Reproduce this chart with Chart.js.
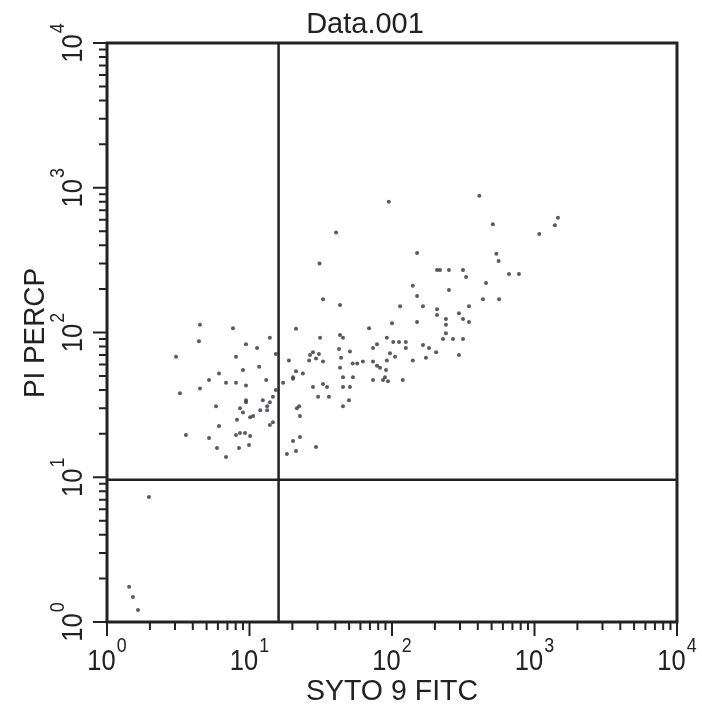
<!DOCTYPE html>
<html>
<head>
<meta charset="utf-8">
<script src="https://cdn.jsdelivr.net/npm/chart.js@4/dist/chart.umd.min.js"></script>
<style>
  body { margin: 0; background: #fff; }
  #wrap { width: 702px; height: 711px; }
</style>
</head>
<body>
<div id="wrap"><canvas id="dotPlot" width="702" height="711"></canvas></div>
<script>
// SYTO 9 (FITC) vs PI (PerCP) events
const syto9 = [95, 410, 510, 1460, 1390, 1080, 40.5, 31, 150, 540,
  560, 207, 217, 251, 315, 331, 662, 778, 457, 140,
  251, 150, 435, 564, 114, 165, 347, 207, 207, 295,
  239, 315, 347, 150, 239, 239, 228, 268, 315, 112,
  125, 125, 165, 182, 204, 140, 173, 295,
  32.8, 43.2, 100, 21.2, 69, 31.3, 43.2, 45.3, 92, 102,
  78.5, 73.6, 42.5, 50.7, 27.9, 30.7, 26.6, 96.8, 105, 43.9,
  29.3, 32.8, 26.2, 18.9, 92, 53, 57, 62.5, 73.6, 78.5,
  43.2, 82.4, 90.8, 21.2, 23.7, 20.2, 20.2, 45.3, 53.2, 73.6,
  89.3, 93.7, 119, 17.2, 27.9, 32.8, 35, 45.3, 50.7, 30.3,
  36.1, 49.9, 45.3, 22.3, 21.5, 22.6, 22.6, 20.2, 21.2, 18.3,
  29.3, 86.5,
  4.49, 7.66, 4.42, 13.9, 9.45, 11.3, 3.05, 8.04, 15.3, 11.7,
  9.0, 6.11, 5.2, 6.84, 8.04, 13.1, 9.45, 3.25, 4.49, 15.3,
  14.6, 9.45, 9.45, 12.4, 13.9, 13.3, 5.82, 11.9, 13.3, 8.58,
  9.0, 8.17, 10.6, 10.1, 13.9, 14.6, 6.11, 8.04, 8.58, 9.3,
  10.1, 3.58, 5.2, 5.91, 8.44, 9.92, 6.84, 1.97, 1.43, 1.52,
  1.65];
const piPercp = [800, 880, 560, 620, 550, 480, 490, 300, 354, 350,
  312, 270, 270, 270, 270, 242, 254, 254, 220, 210,
  197, 179, 170, 170, 152, 152, 152, 145, 132, 136,
  124, 124, 118, 118, 113, 99, 90, 90, 90, 86,
  86, 78, 82, 78, 73, 64, 67, 70,
  170, 155, 116, 106, 107, 92, 96, 92, 92, 86,
  83, 78, 77, 74, 73, 71, 70, 72, 68, 67,
  66, 63, 64, 64, 64, 61, 61, 63, 63, 59,
  57, 57, 55, 54, 52, 49, 48, 49, 49, 47,
  49, 46, 47, 45, 42, 44, 42, 42, 42, 36,
  36, 34, 31, 31, 30, 26.5, 19, 17.8, 15.2, 14.5,
  16.2, 47,
  113, 107, 87, 92, 83, 78, 68, 68, 71, 58,
  55, 52, 47, 45, 45, 47, 43, 38, 41, 40,
  36, 34, 33, 34, 33, 31, 31, 29, 29, 30,
  28, 25, 26.5, 26, 23, 24, 22.6, 19.6, 20.2, 20.2,
  19.3, 19.6, 18.7, 15.9, 15.9, 16.7, 13.8, 7.3, 1.75, 1.49,
  1.21];

// decade ticks, labelled 10^n
const tickValues = [1, 10, 100, 1000, 10000];
const tickPowers = ['0', '1', '2', '3', '4'];

// quadrant gate
const gateX = 16;
const gateY = 9.6;

const FONT = '"Liberation Sans", Arial, Helvetica, sans-serif';
const INK = '#222';

function squeezedText(ctx, text, x, y, size, squeeze) {
    ctx.save();
    ctx.font = size + 'px ' + FONT;
    ctx.translate(x, y);
    ctx.scale(squeeze, 1);
    ctx.fillText(text, 0, 0);
    ctx.restore();
}

function textWidth(ctx, text, size, squeeze) {
    ctx.font = size + 'px ' + FONT;
    return ctx.measureText(text).width * squeeze;
}

const cytoFrame = {
    id: 'cytoFrame',
    afterDatasetsDraw(chart) {
        const ctx = chart.ctx;
        const xs = chart.scales.x, ys = chart.scales.y;
        const a = chart.chartArea;
        ctx.save();
        ctx.fillStyle = INK;
        ctx.strokeStyle = INK;
        ctx.textAlign = 'left';
        ctx.textBaseline = 'alphabetic';

        // quadrant lines
        ctx.lineWidth = 2.5;
        const gx = xs.getPixelForValue(gateX);
        const gy = ys.getPixelForValue(gateY);
        ctx.beginPath();
        ctx.moveTo(gx, a.top); ctx.lineTo(gx, a.bottom);
        ctx.moveTo(a.left, gy); ctx.lineTo(a.right, gy);
        ctx.stroke();

        // frame
        ctx.lineWidth = 3;
        ctx.strokeRect(a.left, a.top, a.right - a.left, a.bottom - a.top);

        // log ticks, outside the frame
        ctx.lineWidth = 2;
        ctx.beginPath();
        for (let k = 0; k < tickValues.length; k++) {
            for (let m = 1; m <= 9; m++) {
                const v = tickValues[k] * m;
                if (v > 10000) break;
                const len = m === 1 ? 14 : 8;
                const px = xs.getPixelForValue(v);
                ctx.moveTo(px, a.bottom); ctx.lineTo(px, a.bottom + len);
                const py = ys.getPixelForValue(v);
                ctx.moveTo(a.left, py); ctx.lineTo(a.left - len, py);
            }
        }
        ctx.stroke();

        // tick labels 10^n
        const baseSize = 30, expSize = 21, sq = 0.85;
        tickValues.forEach((v, i) => {
            const wBase = textWidth(ctx, '10', baseSize, sq);
            const wExp = textWidth(ctx, tickPowers[i], expSize, sq);
            const total = wBase + wExp + 1;
            // x axis
            const px = xs.getPixelForValue(v);
            squeezedText(ctx, '10', px - total / 2, a.bottom + 48, baseSize, sq);
            squeezedText(ctx, tickPowers[i], px - total / 2 + wBase + 1, a.bottom + 30, expSize, sq);
            // y axis, rotated
            const py = ys.getPixelForValue(v);
            ctx.save();
            ctx.translate(a.left - 25, py);
            ctx.rotate(-Math.PI / 2);
            squeezedText(ctx, '10', -total / 2, 0, baseSize, sq);
            squeezedText(ctx, tickPowers[i], -total / 2 + wBase + 1, -18, expSize, sq);
            ctx.restore();
        });

        // titles
        const tw = textWidth(ctx, 'Data.001', 29, 1);
        squeezedText(ctx, 'Data.001', 365 - tw / 2, 33, 29, 1);

        const xw = textWidth(ctx, 'SYTO 9 FITC', 30, 0.95);
        squeezedText(ctx, 'SYTO 9 FITC', (a.left + a.right) / 2 - xw / 2, 700, 30, 0.95);

        const yw = textWidth(ctx, 'PI PERCP', 30, 0.93);
        ctx.save();
        ctx.translate(44, 333);
        ctx.rotate(-Math.PI / 2);
        squeezedText(ctx, 'PI PERCP', -yw / 2, 0, 30, 0.93);
        ctx.restore();

        ctx.restore();
    }
};

document.addEventListener("DOMContentLoaded", function () {
    let ctx = document.getElementById('dotPlot').getContext('2d');

    new Chart(ctx, {
        type: 'scatter',
        data: {
            datasets: [{
                data: syto9.map((x, i) => ({ x: x, y: piPercp[i] })),
                pointRadius: 2,
                pointBackgroundColor: 'rgba(60,60,78,0.85)',
                pointBorderWidth: 0
            }]
        },
        options: {
            responsive: false,
            animation: false,
            layout: { padding: { left: 107, right: 25, top: 43, bottom: 89 } },
            scales: {
                x: { type: 'logarithmic', min: 1, max: 10000, display: false },
                y: { type: 'logarithmic', min: 1, max: 10000, display: false }
            },
            plugins: {
                legend: { display: false },
                tooltip: { enabled: false }
            }
        },
        plugins: [cytoFrame]
    });
});
</script>
</body>
</html>
